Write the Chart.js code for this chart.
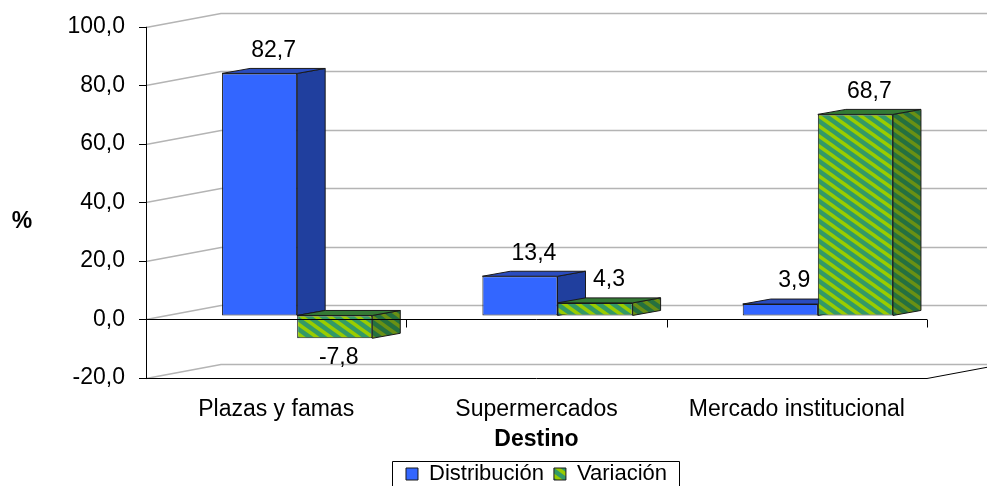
<!DOCTYPE html>
<html>
<head>
<meta charset="utf-8">
<script src="https://cdn.jsdelivr.net/npm/chart.js@4.4.1/dist/chart.umd.min.js"></script>
<style>
  html, body { margin: 0; padding: 0; background: #fff; overflow: hidden; }
</style>
</head>
<body>
<canvas id="chart" width="987" height="486"></canvas>
<script>
const categories = ["Plazas y famas", "Supermercados", "Mercado institucional"];
const distribucion = [82.7, 13.4, 3.9];
const variacion = [-7.8, 4.3, 68.7];
const seriesNames = ["Distribución", "Variación"];
const yTicks = [-20, 0, 20, 40, 60, 80, 100];

const FONT = "'Liberation Sans', Arial, sans-serif";
const WALL = { x: 75, y: -14 }; // depth of the back wall
const SHIFT = { x: 21, y: -4 }; // bars sit a bit behind the front plane
const BAR = { x: 28, y: -5 }; // depth of a bar

Chart.defaults.color = "#000";
Chart.defaults.font.family = FONT;

// diagonal striped fill, like the excel pattern
function stripes(base, stripe) {
  const w = 14, h = 10;
  const c = document.createElement("canvas");
  c.width = w;
  c.height = h;
  const g = c.getContext("2d");
  g.fillStyle = base;
  g.fillRect(0, 0, w, h);
  g.strokeStyle = stripe;
  g.lineWidth = 3.5;
  [-w, 0, w].forEach((o) => {
    g.beginPath();
    g.moveTo(o - w, -h);
    g.lineTo(o + 2 * w, 2 * h);
    g.stroke();
  });
  return g.createPattern(c, "repeat");
}

const fmt = (v) => v.toFixed(1).replace(".", ",");

function poly(ctx, pts) {
  ctx.beginPath();
  ctx.moveTo(pts[0][0], pts[0][1]);
  pts.slice(1).forEach((p) => ctx.lineTo(p[0], p[1]));
  ctx.closePath();
  ctx.fill();
  ctx.stroke();
}

function drawFaces(ctx, bar, ds) {
  const { x, y, base, width } = bar.getProps(["x", "y", "base", "width"], true);
  const l = x - width / 2;
  const r = x + width / 2;
  const t = Math.min(y, base);
  const b = Math.max(y, base);
  ctx.strokeStyle = "#1a1a1a";
  ctx.lineWidth = 1;
  ctx.fillStyle = ds.sideColor;
  poly(ctx, [[r, b], [r, t], [r + BAR.x, t + BAR.y], [r + BAR.x, b + BAR.y]]);
  ctx.fillStyle = ds.topColor;
  poly(ctx, [[l, t], [l + BAR.x, t + BAR.y], [r + BAR.x, t + BAR.y], [r, t]]);
}

const threeD = {
  id: "threeD",
  beforeDatasetsDraw(chart) {
    const ctx = chart.ctx;
    const { left, right, bottom, top } = chart.chartArea;
    const ys = chart.scales.y;
    const xs = chart.scales.x;

    ctx.save();
    // walls + gridlines
    ctx.strokeStyle = "#b4b4b4";
    ctx.lineWidth = 1.5;
    yTicks.forEach((v) => {
      const py = Math.round(ys.getPixelForValue(v)) + 0.5;
      ctx.beginPath();
      ctx.moveTo(left, py);
      ctx.lineTo(left + WALL.x, py + WALL.y);
      ctx.lineTo(chart.width, py + WALL.y);
      ctx.stroke();
    });
    // floor edge
    ctx.strokeStyle = "#000";
    ctx.lineWidth = 1;
    ctx.beginPath();
    ctx.moveTo(left, bottom + 0.5);
    ctx.lineTo(right, bottom + 0.5);
    ctx.lineTo(right + WALL.x, bottom + 0.5 + WALL.y);
    ctx.stroke();

    // bars, in dataset order so green sits in front of blue
    ctx.save();
    ctx.translate(SHIFT.x, SHIFT.y);
    chart.data.datasets.forEach((ds, i) => {
      chart.getDatasetMeta(i).data.forEach((bar) => {
        bar.draw(ctx);
        drawFaces(ctx, bar, ds);
      });
    });
    ctx.restore();

    // category axis at zero
    const y0 = Math.round(ys.getPixelForValue(0)) + 0.5;
    const half = (xs.getPixelForValue(1) - xs.getPixelForValue(0)) / 2;
    ctx.strokeStyle = "#000";
    ctx.beginPath();
    ctx.moveTo(left, y0);
    ctx.lineTo(right, y0);
    categories.forEach((c, i) => {
      const px = Math.round(xs.getPixelForValue(i) + half) + 0.5;
      ctx.moveTo(px, y0);
      ctx.lineTo(px, y0 + 8);
    });
    ctx.stroke();

    // value axis
    ctx.beginPath();
    ctx.moveTo(left + 0.5, top);
    ctx.lineTo(left + 0.5, bottom + 1);
    yTicks.forEach((v) => {
      const py = Math.round(ys.getPixelForValue(v)) + 0.5;
      ctx.moveTo(left - 7, py);
      ctx.lineTo(left + 1, py);
    });
    ctx.stroke();
    ctx.restore();
    return false;
  },
  afterDraw(chart) {
    const ctx = chart.ctx;
    ctx.save();
    ctx.fillStyle = "#000";
    ctx.textAlign = "center";
    ctx.textBaseline = "middle";
    ctx.font = "23px " + FONT;
    chart.data.datasets.forEach((ds, i) => {
      chart.getDatasetMeta(i).data.forEach((bar, j) => {
        const v = ds.data[j];
        const { x, y } = bar.getProps(["x", "y"], true);
        if (v >= 0) {
          ctx.fillText(fmt(v), x + SHIFT.x + BAR.x / 2, y + SHIFT.y + BAR.y - 18);
        } else {
          ctx.fillText(fmt(v), x + SHIFT.x + 4, y + SHIFT.y + 19);
        }
      });
    });

    // "%" axis title
    ctx.font = "bold 23px " + FONT;
    ctx.fillText("%", 22, 222);

    // legend frame
    const boxes = chart.legend.legendHitBoxes;
    if (boxes && boxes.length) {
      const first = boxes[0];
      const last = boxes[boxes.length - 1];
      const l = Math.round(first.left - 14) + 0.5;
      const r = Math.round(last.left + last.width + 12) + 0.5;
      const t = Math.round(first.top - 2) + 0.5;
      ctx.strokeStyle = "#000";
      ctx.lineWidth = 1;
      ctx.beginPath();
      ctx.moveTo(l, chart.height + 5);
      ctx.lineTo(l, t);
      ctx.lineTo(r, t);
      ctx.lineTo(r, chart.height + 5);
      ctx.stroke();
    }
    ctx.restore();
  },
};

const ctx = document.getElementById("chart").getContext("2d");
const chart = new Chart(ctx, {
  type: "bar",
  data: {
    labels: categories,
    datasets: [
      {
        label: seriesNames[0],
        data: distribucion,
        backgroundColor: "#3366ff",
        sideColor: "#203f9e",
        topColor: "#2a4cbf",
        borderColor: "#1a1a1a",
        borderWidth: 1,
        borderSkipped: false,
        categoryPercentage: 0.577,
        barPercentage: 1,
      },
      {
        label: seriesNames[1],
        data: variacion,
        backgroundColor: stripes("#339966", "#99cc00"),
        sideColor: stripes("#25703f", "#6a9014"),
        topColor: "#347a35",
        borderColor: "#1a1a1a",
        borderWidth: 1,
        borderSkipped: false,
        categoryPercentage: 0.577,
        barPercentage: 1,
      },
    ],
  },
  options: {
    responsive: false,
    animation: false,
    devicePixelRatio: 1,
    layout: { padding: { left: 0, right: 60, top: 16, bottom: -9 } },
    plugins: {
      legend: {
        position: "bottom",
        fullSize: false,
        labels: {
          boxWidth: 12,
          boxHeight: 12,
          padding: 10,
          color: "#000",
          font: { size: 22 },
        },
      },
      tooltip: { enabled: false },
    },
    scales: {
      x: {
        grid: { display: false },
        border: { display: false },
        ticks: { padding: 10, color: "#000", font: { size: 23 } },
        title: {
          display: true,
          text: "Destino",
          color: "#000",
          font: { size: 23, weight: "bold" },
          padding: { top: 0, bottom: 0 },
        },
        afterFit(s) {
          s.height = 75;
        },
      },
      y: {
        min: -20,
        max: 100,
        grid: { display: false },
        border: { display: false },
        afterBuildTicks(s) {
          s.ticks = yTicks.map((v) => ({ value: v }));
        },
        ticks: {
          padding: 13,
          color: "#000",
          font: { size: 23 },
          callback: (v) => fmt(v),
        },
        afterFit(s) {
          s.width = 146;
        },
      },
    },
  },
  plugins: [threeD],
});
</script>
</body>
</html>
